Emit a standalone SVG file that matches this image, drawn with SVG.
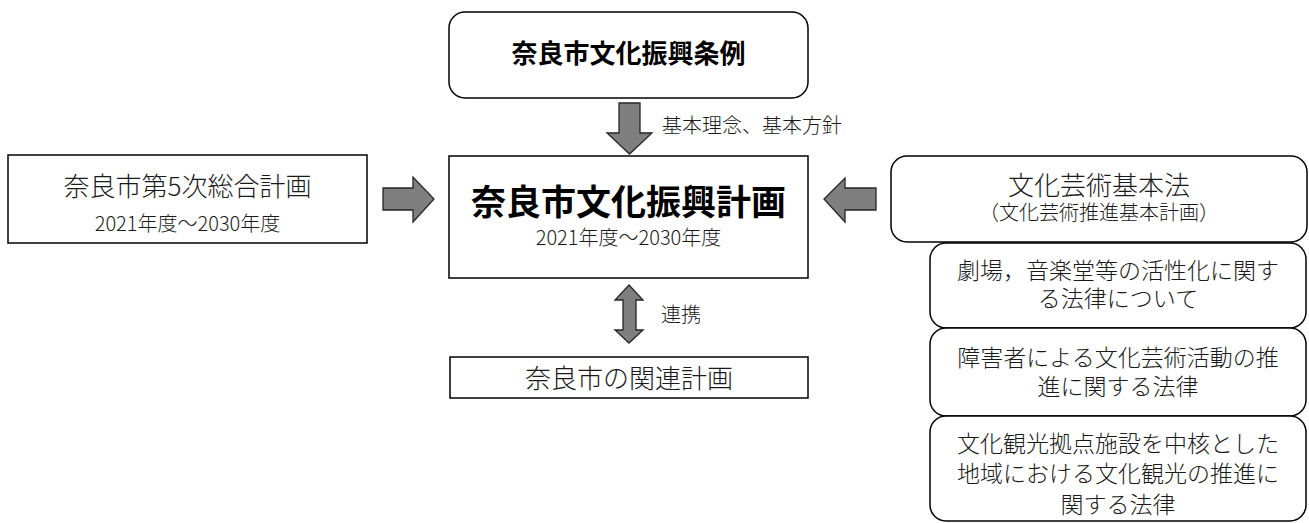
<svg xmlns="http://www.w3.org/2000/svg" width="1309" height="523" viewBox="0 0 1309 523">
<style>
.box{fill:#fff;stroke:#000;stroke-width:1.5}
.arr{fill:#7f7f7f;stroke:#262626;stroke-width:1.3;stroke-linejoin:miter}
text{font-family:"Noto Sans CJK JP","Noto Sans",sans-serif;fill:#1a1a1a;font-weight:300}
.c{text-anchor:middle}
.b{font-weight:bold;fill:#000}
.t26{font-size:26px}
.t20{font-size:20px}
.t24{font-size:23px}
</style>
<rect width="1309" height="523" fill="#fff"/>
<g id="connectors">
<polygon class="arr" points="619,103 640,103 640,133 652,133 629.5,154 607,133 619,133"/>
<polygon class="arr" points="383,188 413,188 413,177 434,199 413,222 413,210 383,210"/>
<polygon class="arr" points="876,188 845,188 845,178 824,199 845,222 845,210 876,210"/>
<polygon class="arr" points="629,285 643,300 636,300 636,330 643,330 629,343 615,330 623,330 623,300 615,300"/>
<text class="t20" x="662" y="133">基本理念、基本方針</text>
<text class="t20" x="661" y="322">連携</text>
</g>
<g id="jorei">
<rect class="box" x="449" y="12" width="359" height="86" rx="16"/>
<text class="c b t26" x="628.5" y="63">奈良市文化振興条例</text>
</g>
<g id="keikaku">
<rect class="box" x="449" y="156" width="359" height="122"/>
<text class="c b" style="font-size:35px" x="628.5" y="215">奈良市文化振興計画</text>
<text class="c t20" x="628.5" y="245">2021年度～2030年度</text>
</g>
<g id="sogo">
<rect class="box" x="8" y="155" width="359" height="88"/>
<text class="c t26" x="187.5" y="196">奈良市第5次総合計画</text>
<text class="c t20" x="187.5" y="231">2021年度～2030年度</text>
</g>
<g id="kanren">
<rect class="box" x="450" y="357" width="358" height="41"/>
<text class="c t26" x="629" y="388">奈良市の関連計画</text>
</g>
<g id="kihonho">
<rect class="box" x="891" y="156" width="416" height="86" rx="16"/>
<text class="c t26" x="1099" y="195">文化芸術基本法</text>
<text class="c t20" x="1099" y="220">（文化芸術推進基本計画）</text>
</g>
<g id="gekijo">
<rect class="box" x="930" y="243" width="376" height="85" rx="16"/>
<text class="c t24" x="1118" y="279">劇場，音楽堂等の活性化に関す</text>
<text class="c t24" x="1118" y="307">る法律について</text>
</g>
<g id="shogaisha">
<rect class="box" x="930" y="328" width="376" height="88" rx="16"/>
<text class="c t24" x="1118" y="366">障害者による文化芸術活動の推</text>
<text class="c t24" x="1118" y="395">進に関する法律</text>
</g>
<g id="kanko">
<rect class="box" x="930" y="416" width="376" height="105" rx="16"/>
<text class="c t24" x="1118" y="452">文化観光拠点施設を中核とした</text>
<text class="c t24" x="1118" y="482">地域における文化観光の推進に</text>
<text class="c t24" x="1118" y="513">関する法律</text>
</g>
</svg>
